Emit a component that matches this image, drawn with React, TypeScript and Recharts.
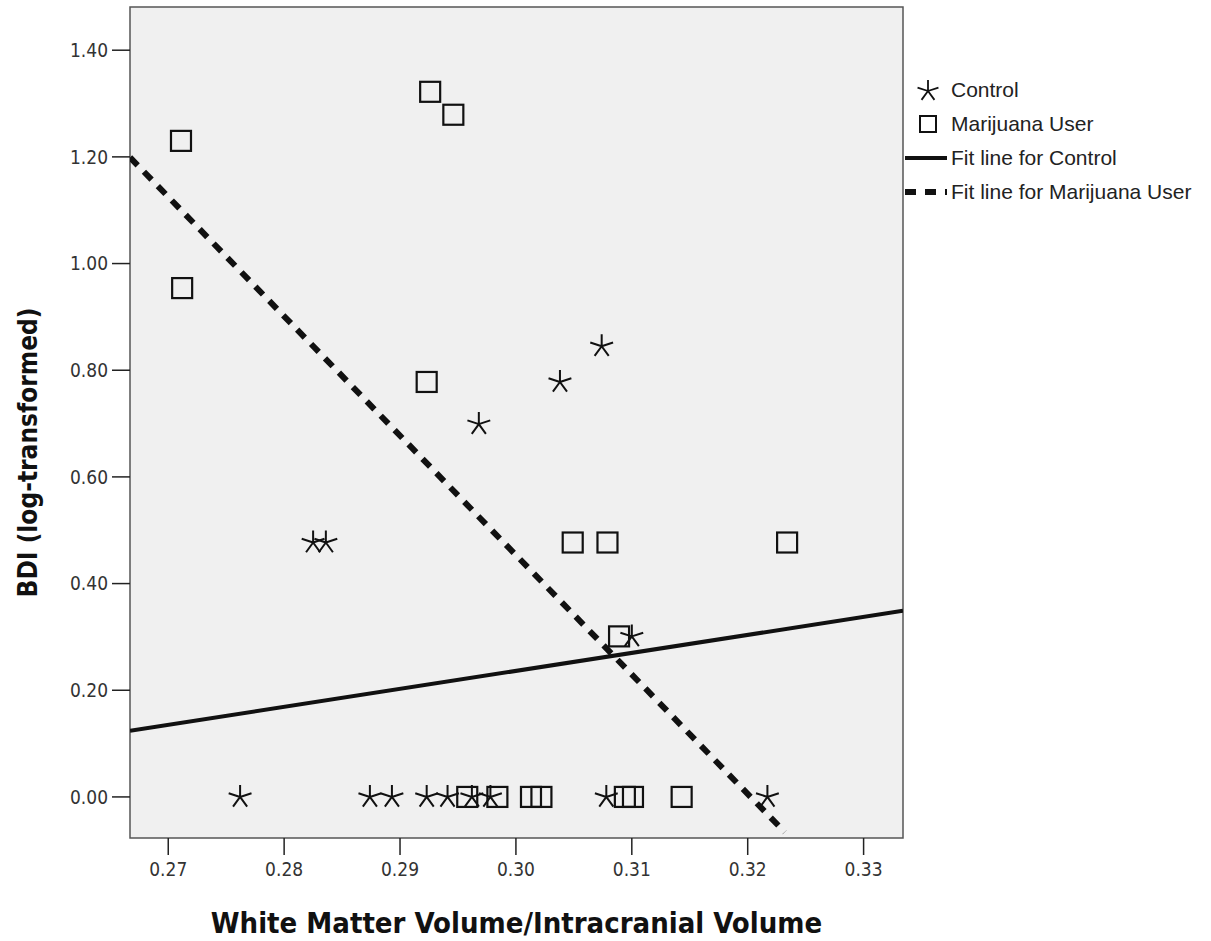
import {
  ScatterChart,
  Scatter,
  XAxis,
  YAxis,
  ReferenceArea,
} from "recharts";

// values (BDI is log10(score + 1))
const controlX = [0.3074, 0.3038, 0.2968, 0.2825, 0.2836, 0.31, 0.2762, 0.2874, 0.2893, 0.2923, 0.2941, 0.2962, 0.2978, 0.3078, 0.3217];
const controlY = [0.845, 0.778, 0.699, 0.477, 0.477, 0.301, 0, 0, 0, 0, 0, 0, 0, 0, 0];

const userX = [0.2711, 0.2712, 0.2926, 0.2946, 0.2923, 0.3049, 0.3079, 0.3234, 0.3089, 0.2958, 0.2984, 0.3013, 0.3022, 0.3094, 0.3101, 0.3143];
const userY = [1.23, 0.954, 1.322, 1.279, 0.778, 0.477, 0.477, 0.477, 0.301, 0, 0, 0, 0, 0, 0, 0];

const controlFitX = [0.2667, 0.3334];
const controlFitY = [0.124, 0.349];
const userFitX = [0.2667, 0.3232];
const userFitY = [1.199, -0.066];

const xTicks = [0.27, 0.28, 0.29, 0.3, 0.31, 0.32, 0.33];
const yTicks = [0, 0.2, 0.4, 0.6, 0.8, 1.0, 1.2, 1.4];
const xDomain = [0.2667, 0.3334];
const yDomain = [-0.077, 1.481];

const NARROW = '"Liberation Sans Narrow", "DejaVu Sans Condensed", "Liberation Sans", Arial, sans-serif';
const SANS = '"Liberation Sans", Arial, sans-serif';
const INK = "#111";

const zip = (xs: number[], ys: number[]) => xs.map((x, i) => ({ x, y: ys[i] }));

function starPath(cx: number, cy: number, r: number) {
  let d = "";
  for (let k = 0; k < 5; k++) {
    const a = ((-90 + k * 72) * Math.PI) / 180;
    d += `M${cx},${cy}L${cx + r * Math.cos(a)},${cy + r * Math.sin(a)}`;
  }
  return d;
}

function Star(props: any) {
  const { cx, cy } = props;
  return <path d={starPath(cx, cy, 12)} stroke={INK} strokeWidth={2} fill="none" />;
}

function Square(props: any) {
  const { cx, cy } = props;
  return <rect x={cx - 10} y={cy - 10} width={20} height={20} fill="none" stroke={INK} strokeWidth={2.2} />;
}

const NoDot = () => <g />;

function YTitle(props: any) {
  const vb = props.viewBox || { x: 0, y: 0, height: 0 };
  const x = vb.x + 28;
  const y = vb.y + vb.height / 2 + 30;
  return (
    <text
      x={x}
      y={y}
      transform={`rotate(-90 ${x} ${y})`}
      textAnchor="middle"
      dominantBaseline="central"
      fontFamily={NARROW}
      fontWeight="bold"
      fontSize={26}
      fill={INK}
    >
      BDI (log-transformed)
    </text>
  );
}

function LegendIcon({ kind }: { kind: string }) {
  return (
    <svg width={42} height={24} style={{ flex: "none" }}>
      {kind === "star" && <path d={starPath(23, 13, 11)} stroke={INK} strokeWidth={1.8} fill="none" />}
      {kind === "square" && <rect x={15} y={4} width={16} height={16} fill="none" stroke={INK} strokeWidth={2} />}
      {kind === "solid" && <line x1={0} y1={12} x2={42} y2={12} stroke={INK} strokeWidth={4} />}
      {kind === "dash" && <line x1={0} y1={12} x2={42} y2={12} stroke={INK} strokeWidth={6} strokeDasharray="11 9" />}
    </svg>
  );
}

const legendItems = [
  { kind: "star", label: "Control" },
  { kind: "square", label: "Marijuana User" },
  { kind: "solid", label: "Fit line for Control" },
  { kind: "dash", label: "Fit line for Marijuana User" },
];

export default function App() {
  return (
    <div style={{ position: "absolute", left: 0, top: 0, width: 1211, height: 941, background: "#fff" }}>
      <ScatterChart width={1211} height={941} margin={{ top: 7, right: 308, left: 0, bottom: 0 }}>
        <XAxis
          type="number"
          dataKey="x"
          domain={xDomain}
          ticks={xTicks}
          allowDataOverflow
          height={103}
          axisLine={false}
          tickSize={17}
          tickMargin={8}
          tickLine={{ stroke: "#222", strokeWidth: 1.5 }}
          tick={{ fill: "#333", fontSize: 19, fontFamily: NARROW }}
          tickFormatter={(v: number) => v.toFixed(2)}
          label={{
            value: "White Matter Volume/Intracranial Volume",
            position: "insideBottom",
            offset: 8,
            style: { fontFamily: NARROW, fontWeight: "bold", fontSize: 29, fill: INK },
          }}
        />
        <YAxis
          type="number"
          dataKey="y"
          domain={yDomain}
          ticks={yTicks}
          allowDataOverflow
          width={130}
          axisLine={false}
          tickSize={18}
          tickMargin={4}
          tickLine={{ stroke: "#222", strokeWidth: 1.5 }}
          tick={{ fill: "#333", fontSize: 19, fontFamily: NARROW }}
          tickFormatter={(v: number) => v.toFixed(2)}
          label={<YTitle />}
        />
        <ReferenceArea
          x1={xDomain[0]}
          x2={xDomain[1]}
          y1={yDomain[0]}
          y2={yDomain[1]}
          fill="#f0f0f0"
          fillOpacity={1}
          stroke="#555"
          strokeWidth={1.5}
        />
        <Scatter
          data={zip(controlFitX, controlFitY)}
          line={{ stroke: INK, strokeWidth: 4 }}
          shape={NoDot}
          isAnimationActive={false}
        />
        <Scatter
          data={zip(userFitX, userFitY)}
          line={{ stroke: INK, strokeWidth: 6, strokeDasharray: "11 9" }}
          shape={NoDot}
          isAnimationActive={false}
        />
        <Scatter data={zip(userX, userY)} shape={Square} isAnimationActive={false} />
        <Scatter data={zip(controlX, controlY)} shape={Star} isAnimationActive={false} />
      </ScatterChart>
      <div style={{ position: "absolute", left: 905, top: 73, fontFamily: SANS, fontSize: 21, color: "#222" }}>
        {legendItems.map((it) => (
          <div key={it.label} style={{ display: "flex", alignItems: "center", height: 34, whiteSpace: "nowrap" }}>
            <LegendIcon kind={it.kind} />
            <span style={{ marginLeft: 4 }}>{it.label}</span>
          </div>
        ))}
      </div>
    </div>
  );
}
